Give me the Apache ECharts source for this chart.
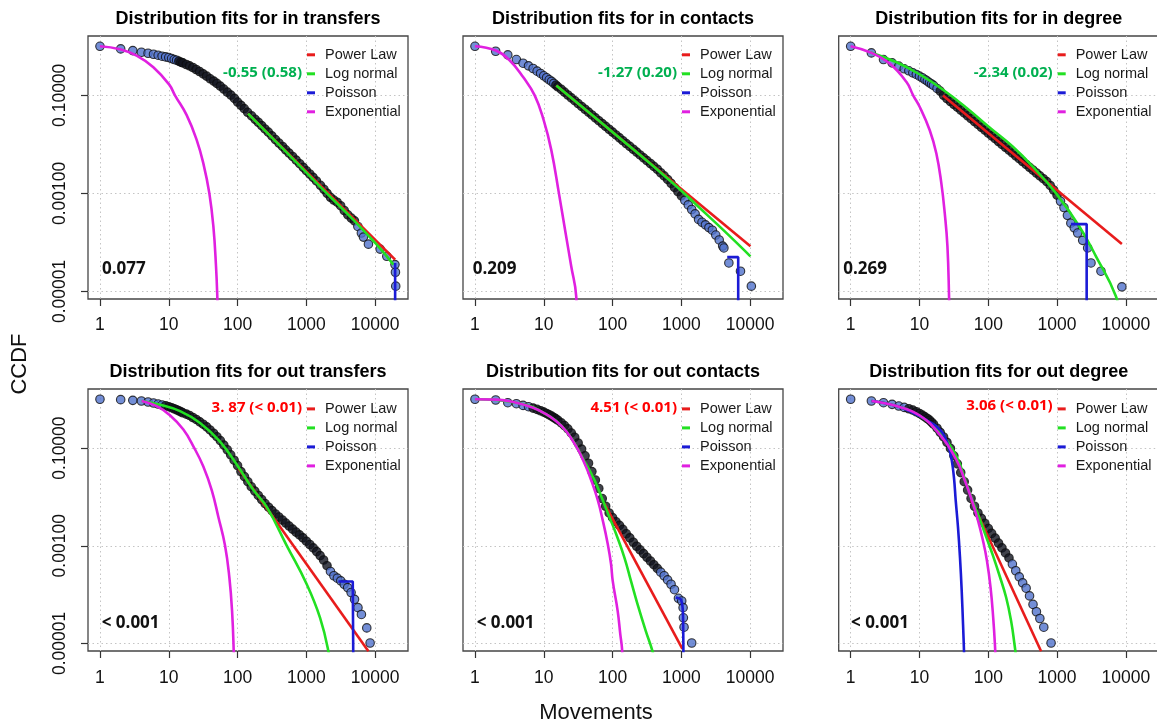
<!DOCTYPE html>
<html>
<head>
<meta charset="utf-8">
<script src="https://cdn.jsdelivr.net/npm/echarts@6/dist/echarts.min.js"></script>
<style>
  html, body { margin: 0; padding: 0; background: #ffffff; }
  #chart { width: 1157px; height: 727px; }
</style>
</head>
<body>
<div id="chart"></div>
<script>
// ---- axis ticks and labels ----
const xTickValues = [1, 10, 100, 1000, 10000];
const xTickLabels = ['1', '10', '100', '1000', '10000'];
const yTickValues = [0.1, 0.001, 0.00001];
const yTickLabels = ['0.10000', '0.00100', '0.00001'];

const panelTitles = [
  'Distribution fits for in transfers',
  'Distribution fits for in contacts',
  'Distribution fits for in degree',
  'Distribution fits for out transfers',
  'Distribution fits for out contacts',
  'Distribution fits for out degree'
];
const fitNames = ['Power Law', 'Log normal', 'Poisson', 'Exponential'];
// likelihood-ratio comparison (statistic and p) and goodness-of-fit p-value per panel
const comparisonLabels = ['-0.55 (0.58)', '-1.27 (0.20)', '-2.34 (0.02)', '3. 87 (< 0.01)', '4.51 (< 0.01)', '3.06 (< 0.01)'];
const pValueLabels = ['0.077', '0.209', '0.269', '< 0.001', '< 0.001', '< 0.001'];

// ---- in transfers: empirical CCDF [movements, CCDF] and fitted curves ----
const inTransfersPts = [[1,1],[2,0.883],[3,0.817],[4,0.755],[5,0.721],[6,0.688],[7,0.657],[8,0.627],[9,0.607],[10,0.589],[11,0.562],[12,0.536],[13,0.52],[14,0.496],[15,0.473],[16,0.459],[18,0.425],[20,0.399],[22.4,0.369],[25,0.336],[28,0.306],[31.6,0.274],[35.5,0.246],[40,0.217],[45,0.195],[50,0.175],[56,0.154],[63,0.134],[71,0.116],[80,0.101],[90,0.0865],[100,0.0729],[112,0.0624],[125,0.0534],[140,0.045],[160,0.038],[180,0.0324],[200,0.0282],[224,0.0241],[250,0.0206],[280,0.0177],[315,0.0149],[355,0.01253],[400,0.01056],[450,0.00904],[500,0.00773],[560,0.00662],[630,0.00566],[710,0.00477],[800,0.00402],[900,0.00339],[1000,0.0029],[1120,0.00248],[1250,0.00212],[1400,0.00179],[1600,0.00146],[1800,0.00121],[2000,0.001],[2240,0.00083],[2500,0.00073],[2800,0.00066],[3150,0.00056],[3550,0.000447],[4000,0.000365],[4500,0.000312],[5000,0.000275],[5600,0.000211],[6300,0.000155],[6750,0.000128],[7980,0.000092],[11800,0.000073],[14750,0.000052],[19400,0.0000352],[19700,0.0000246],[19900,0.0000128]];
const inTransfersPower = [[142,0.0423],[19500,0.0000445]];
const inTransfersLognormal = [[142,0.0423],[463,0.00798],[1582,0.00137],[4830,0.000288],[10550,0.0000897],[18450,0.0000352]];
const inTransfersPoisson = [[19500,0.000038],[19500,0.0000001]];
const inTransfersExp = [[1,1],[1.95,0.869],[3.41,0.646],[5.97,0.375],[10.1,0.167],[12.3,0.1],[18.2,0.0393],[25.5,0.0122],[31.8,0.00408],[38.9,0.001],[44.5,0.000211],[48.6,0.0000326],[50.9,0.0000069],[52.6,0.0000014]];

// ---- in contacts ----
const inContactsPts = [[1,1],[2,0.792],[3,0.667],[4,0.536],[5,0.452],[6,0.399],[7,0.352],[8,0.311],[9,0.279],[10,0.25],[11,0.228],[12,0.207],[13,0.192],[14,0.175],[15,0.161],[16,0.149],[18,0.132],[20,0.116],[22.4,0.1014],[25.1,0.0887],[28.2,0.0775],[31.6,0.0678],[35.5,0.0593],[39.8,0.0519],[44.7,0.0454],[50.1,0.0397],[56.2,0.0347],[63.1,0.0303],[70.8,0.0265],[79.4,0.0232],[89.1,0.0203],[100,0.01774],[112,0.01552],[126,0.01357],[141,0.01186],[158,0.01037],[178,0.00908],[200,0.00794],[224,0.00694],[251,0.00607],[282,0.00531],[316,0.00464],[355,0.00406],[398,0.00355],[447,0.0031],[501,0.00263],[562,0.00227],[631,0.00192],[708,0.0016],[794,0.00132],[891,0.00108],[1000,0.00089],[1122,0.000718],[1259,0.000582],[1413,0.000468],[1585,0.000381],[1778,0.000294],[1995,0.000257],[2239,0.000228],[2512,0.0002],[2818,0.000177],[3162,0.000141],[3548,0.000112],[3981,0.000084],[4150,0.000077],[4900,0.000038],[7230,0.0000258],[10400,0.0000128]];
const inContactsPower = [[15.2,0.159],[10090,0.000083]];
const inContactsLognormal = [[15.2,0.159],[100.5,0.01766],[741,0.00165],[1803,0.00052],[4385,0.000162],[10090,0.000052]];
const inContactsPoisson = [[4640,0.00005],[6700,0.00005],[6700,0.0000001]];
const inContactsExp = [[1,1],[2.01,0.817],[3.21,0.512],[5.01,0.235],[7.38,0.0995],[9.97,0.031],[12.87,0.00762],[16.61,0.001],[20.75,0.000155],[25.06,0.0000326],[29.6,0.000008],[30.6,0.00000144]];

// ---- in degree ----
const inDegreePts = [[1,1],[2,0.732],[3,0.536],[4,0.459],[5,0.393],[6,0.347],[7,0.316],[8,0.287],[9,0.266],[10,0.246],[11,0.228],[12,0.21],[13,0.195],[14,0.18],[15,0.169],[16,0.159],[18,0.138],[20,0.122],[22.4,0.1],[25.1,0.0854],[28.2,0.0747],[31.6,0.0653],[35.5,0.0571],[39.8,0.0499],[44.7,0.0436],[50.1,0.03815],[56.2,0.0334],[63.1,0.0292],[70.8,0.0255],[79.4,0.0223],[89.1,0.0195],[100,0.01703],[112,0.0149],[126,0.01303],[141,0.01139],[158,0.00996],[178,0.00871],[200,0.00762],[224,0.00666],[251,0.00582],[282,0.00509],[316,0.00445],[355,0.00389],[398,0.0034],[447,0.00297],[501,0.0026],[562,0.00227],[631,0.00199],[708,0.00174],[794,0.00145],[891,0.00117],[1000,0.00092],[1122,0.00069],[1259,0.000514],[1413,0.000356],[1585,0.000247],[1778,0.000198],[1993,0.000155],[2355,0.00011],[2782,0.000077],[3112,0.000038],[4345,0.0000258],[8750,0.0000124]];
const inDegreePower = [[22,0.0996],[8750,0.0000925]];
const inDegreeLognormal = [[1.91,0.756],[4.64,0.473],[10.1,0.266],[22,0.13],[48,0.056],[104.5,0.022],[228,0.0089],[444,0.00349],[967,0.001],[2108,0.000211],[3675,0.000052],[7160,0.000008],[8000,0.0000032]];
const inDegreePoisson = [[1596,0.000236],[2692,0.000236],[2692,0.0000001]];
const inDegreeExp = [[1,1],[2.01,0.732],[3.72,0.438],[6.48,0.186],[8.09,0.1],[10.1,0.0577],[14.1,0.0194],[17.6,0.00652],[20.8,0.0016],[23.3,0.000394],[25.5,0.000083],[26.9,0.000008],[27.5,0.00000144]];

// ---- out transfers ----
const outTransfersPts = [[1,1],[2,0.98],[3,0.948],[4,0.92],[5,0.877],[6,0.836],[7,0.797],[8,0.76],[9,0.736],[10,0.703],[11,0.67],[12,0.638],[13,0.609],[14,0.581],[15,0.554],[16,0.528],[18,0.496],[20,0.465],[22.4,0.423],[25.1,0.385],[28.2,0.344],[31.6,0.308],[35.5,0.272],[39.8,0.235],[44.7,0.201],[50.1,0.171],[56.2,0.142],[63.1,0.115],[70.8,0.0924],[79.4,0.0729],[89.1,0.0565],[100,0.0439],[112,0.033],[126,0.026],[141,0.0205],[158,0.0162],[178,0.01316],[200,0.01072],[224,0.00885],[251,0.00731],[282,0.00615],[316,0.00525],[355,0.00448],[398,0.00388],[447,0.00337],[501,0.00292],[562,0.00253],[631,0.00219],[708,0.0019],[794,0.00167],[891,0.00145],[1000,0.00124],[1122,0.00106],[1259,0.000904],[1413,0.000759],[1585,0.000628],[1778,0.000511],[1995,0.00039],[2239,0.000298],[2512,0.000243],[2818,0.000217],[3162,0.000191],[3548,0.000163],[3981,0.000139],[4467,0.00011],[5012,0.00008],[5623,0.000054],[6310,0.0000392],[7550,0.0000208],[8440,0.0000102]];
const outTransfersPower = [[102.8,0.0386],[7980,0.0000069]];
const outTransfersLognormal = [[4.04,0.92],[7.46,0.773],[14.6,0.571],[28.5,0.327],[55.6,0.135],[101.6,0.0418],[170,0.0138],[265,0.00624],[518,0.00101],[1012,0.000163],[1582,0.0000335],[2090,0.0000069],[2260,0.00000265]];
const outTransfersPoisson = [[2924,0.000185],[4725,0.000185],[4830,0.0000014]];
const outTransfersExp = [[4.04,0.92],[6.67,0.725],[10.07,0.488],[16.3,0.239],[23.5,0.1],[31.8,0.0419],[42.1,0.0138],[52.6,0.00388],[65.7,0.00101],[76,0.000224],[83.2,0.000046],[87.9,0.0000069],[89.9,0.0000014]];

// ---- out contacts ----
const outContactsPts = [[1,1],[2,0.964],[3,0.85],[4,0.81],[5,0.748],[6,0.703],[7,0.659],[8,0.619],[9,0.581],[10,0.545],[11,0.512],[12,0.48],[13,0.451],[14,0.423],[15,0.397],[16,0.372],[18,0.328],[20,0.289],[22.4,0.247],[25.1,0.204],[28.2,0.166],[31.6,0.127],[35.5,0.0953],[39.8,0.0695],[44.7,0.049],[50.1,0.033],[56.2,0.0222],[63.1,0.0149],[70.8,0.00927],[79.4,0.00644],[89.1,0.0047],[100,0.00376],[112,0.00311],[126,0.00261],[141,0.00216],[158,0.00176],[178,0.00145],[200,0.00118],[224,0.000977],[251,0.000822],[282,0.00069],[316,0.00058],[355,0.000487],[398,0.000409],[447,0.000344],[501,0.000288],[562,0.000243],[631,0.0002],[708,0.000163],[794,0.000126],[906,0.000084],[1012,0.000074],[1059,0.000054],[1070,0.0000335],[1094,0.0000215],[1413,0.0000102]];
const outContactsPower = [[76.1,0.00731],[1035,0.0000077]];
const outContactsLognormal = [[1,1],[4.01,0.849],[9.97,0.528],[21.2,0.221],[39.1,0.053],[54.5,0.0222],[72,0.00857],[89.9,0.00388],[112.3,0.00176],[148.2,0.00058],[185,0.000191],[231,0.000063],[305,0.0000177],[381,0.0000069],[403,0.0000043]];
const outContactsPoisson = [[829,0.000087],[979,0.00008],[1035,0.000059],[1059,0.0000335],[1070,0.0000069],[1070,0.0000001]];
const outContactsExp = [[1,1],[2.06,0.98],[4.01,0.849],[6.98,0.67],[9.97,0.528],[15.2,0.355],[21.2,0.221],[29.6,0.108],[39.1,0.049],[48.8,0.0222],[61,0.00857],[72,0.00331],[85.1,0.00109],[95,0.000422],[100.5,0.000191],[118.7,0.000046],[129.7,0.0000151],[137,0.000008],[141.6,0.00000265]];

// ---- out degree ----
const outDegreePts = [[1,1],[2,0.92],[3,0.849],[4,0.785],[5,0.725],[6,0.68],[7,0.639],[8,0.6],[9,0.554],[10,0.512],[11,0.472],[12,0.436],[13,0.403],[14,0.373],[15,0.339],[16,0.308],[18,0.255],[20,0.21],[22.4,0.169],[25.1,0.131],[28.2,0.0985],[31.6,0.0695],[35.5,0.0475],[39.8,0.0315],[44.7,0.0205],[50.1,0.0138],[56.2,0.00929],[63.1,0.00644],[70.8,0.0047],[79.4,0.00364],[89.1,0.00287],[100,0.00226],[112,0.00179],[126,0.00143],[141,0.00113],[158,0.000904],[178,0.000713],[200,0.000562],[224,0.000422],[251,0.000308],[282,0.000231],[316,0.000174],[355,0.000135],[398,0.000094],[447,0.000063],[501,0.0000445],[562,0.0000324],[641,0.0000215],[818,0.0000102]];
const outDegreePower = [[56.7,0.00857],[586,0.0000069]];
const outDegreeLognormal = [[2.01,0.92],[4.64,0.725],[10.1,0.451],[19.7,0.204],[34.4,0.0673],[48,0.0189],[59.9,0.00792],[74.9,0.00359],[93.5,0.0015],[117,0.000628],[146,0.000243],[182,0.000087],[215,0.0000286],[241,0.0000094],[255,0.000005]];
const outDegreePoisson = [[2.01,0.92],[4.64,0.725],[10.1,0.451],[13.35,0.355],[17.6,0.28],[22,0.198],[26,0.117],[29.1,0.0622],[31.8,0.024],[33.6,0.00857],[36.3,0.00241],[38.8,0.00058],[41.1,0.000119],[43,0.0000244],[44.4,0.0000069],[45.4,0.00000265]];
const outDegreeExp = [[2.01,0.92],[4.64,0.725],[10.1,0.465],[19.7,0.188],[34.4,0.0574],[45.4,0.0222],[56.7,0.00929],[70.8,0.00331],[83.7,0.00128],[95.7,0.000494],[108,0.000139],[118,0.0000335],[125,0.0000094],[129,0.0000031]];

const panels = [
  { pts: inTransfersPts,   fits: [inTransfersPower,   inTransfersLognormal,   inTransfersPoisson,   inTransfersExp] },
  { pts: inContactsPts,    fits: [inContactsPower,    inContactsLognormal,    inContactsPoisson,    inContactsExp] },
  { pts: inDegreePts,      fits: [inDegreePower,      inDegreeLognormal,      inDegreePoisson,      inDegreeExp] },
  { pts: outTransfersPts,  fits: [outTransfersPower,  outTransfersLognormal,  outTransfersPoisson,  outTransfersExp] },
  { pts: outContactsPts,   fits: [outContactsPower,   outContactsLognormal,   outContactsPoisson,   outContactsExp] },
  { pts: outDegreePts,     fits: [outDegreePower,     outDegreeLognormal,     outDegreePoisson,     outDegreeExp] }
];

// ---- layout and styling ----
const boxLeft = [88, 463, 838.7];
const boxTop = [36, 389];
const boxWidth = 320;
const boxHeight = [263, 262];
const xRange = [0.67, 30000];
const yRange = [0.000007, 1.62];
const fitColors = ['#e81c1c', '#22e022', '#1b1bd6', '#e020e0'];
const pointColor = '#5072cc';
// where the markers pile up so thickly that their outlines merge into a dark trace
const overplotRange = [[14, 5000], [15, 1100], [20, 1100], [9, 2000], [7, 500], [7, 220]];
const overplotColor = '#12141f';
const smoothFit = [[0, 0.45, 0, 0.45], [0, 0.45, 0, 0.45], [0, 0.45, 0, 0.45], [0, 0.45, 0, 0.45], [0, 0.45, 0.2, 0.45], [0, 0.45, 0.4, 0.45]];
const comparisonColor = ['#00b050', '#00b050', '#00b050', '#ff0000', '#ff0000', '#ff0000'];
const comparisonY = [72.8, 72.8, 72.8, 408, 407.5, 406];
const pValueX = [102, 472.7, 843.3, 101.7, 476.7, 851];
const pValueY = [269.2, 269.2, 269.2, 623, 623, 623];
const labelFont = 'Liberation Sans, Arial, sans-serif';
const noteFont = 'Open Sans, Noto Sans, sans-serif';

function tickFormatter(values, labels) {
  return function (v) {
    let best = 0;
    for (let k = 1; k < values.length; k++) {
      if (Math.abs(Math.log10(v) - Math.log10(values[k])) < Math.abs(Math.log10(v) - Math.log10(values[best]))) best = k;
    }
    return labels[best];
  };
}

const grids = [], xAxes = [], yAxes = [], series = [], legends = [], graphics = [];

panels.forEach(function (p, i) {
  const col = i % 3, row = Math.floor(i / 3);
  const left = boxLeft[col], top = boxTop[row];
  grids.push({
    left: left, top: top, width: boxWidth, height: boxHeight[row],
    show: true, borderColor: '#454545', borderWidth: 1.3,
    backgroundColor: 'transparent', containLabel: false, outerBoundsMode: 'none'
  });
  xAxes.push({
    type: 'log', logBase: 10, gridIndex: i, min: xRange[0], max: xRange[1],
    axisLine: { show: false },
    axisTick: { show: true, inside: false, length: 7, customValues: xTickValues, lineStyle: { color: '#333', width: 1.2 } },
    axisLabel: { show: true, customValues: xTickValues, formatter: tickFormatter(xTickValues, xTickLabels),
      margin: row === 0 ? 17 : 18, fontSize: 17.5, fontFamily: labelFont, color: '#111' },
    splitLine: { show: true, lineStyle: { type: [1.5, 3], color: '#c4c4c4', width: 1 } }
  });
  yAxes.push({
    type: 'log', logBase: 10, gridIndex: i, min: yRange[0], max: yRange[1],
    axisLine: { show: false },
    axisTick: { show: col === 0, inside: false, length: 7, customValues: yTickValues, lineStyle: { color: '#333', width: 1.2 } },
    axisLabel: { show: col === 0, customValues: yTickValues, formatter: tickFormatter(yTickValues, yTickLabels),
      rotate: 90, margin: 19, fontSize: 17.5, fontFamily: labelFont, color: '#111' },
    splitLine: { show: true, lineStyle: { type: [1.5, 3], color: '#c4c4c4', width: 1 } }
  });
  const lo = overplotRange[i][0], hi = overplotRange[i][1];
  series.push({
    type: 'scatter', name: 'CCDF', xAxisIndex: i, yAxisIndex: i,
    data: p.pts.map(function (pt) {
      const dense = pt[0] >= lo && pt[0] <= hi;
      return dense ? { value: pt, itemStyle: { color: overplotColor } } : { value: pt };
    }),
    symbol: 'circle', symbolSize: 8.5, z: 2, silent: true,
    itemStyle: { color: pointColor, borderColor: '#0d0d0d', borderWidth: 1.1 }
  });
  p.fits.forEach(function (d, k) {
    series.push({
      type: 'line', name: fitNames[k], xAxisIndex: i, yAxisIndex: i, data: d,
      showSymbol: false, symbol: 'none', smooth: smoothFit[i][k],
      z: 3 + k, silent: true, clip: true,
      lineStyle: { color: fitColors[k], width: 2.6 }, itemStyle: { color: fitColors[k] }
    });
  });
  legends.push({
    orient: 'vertical', left: left + boxWidth - 101, top: top + (row === 0 ? 11.3 : 12.4),
    padding: 0, itemGap: 4, itemWidth: 8, itemHeight: 3, icon: 'rect', selectedMode: false,
    data: fitNames,
    textStyle: { fontSize: 14.5, fontFamily: labelFont, color: '#1a1a1a', padding: [0, 0, 0, 5] }
  });
  graphics.push({
    type: 'text', x: left + boxWidth / 2, y: row === 0 ? 19 : 372, silent: true,
    style: { text: panelTitles[i], fontSize: 18, fontWeight: 'bold', fontFamily: labelFont, fill: '#000',
      align: 'center', verticalAlign: 'middle' }
  });
  graphics.push({
    type: 'text', x: left + boxWidth - 106, y: comparisonY[i], silent: true, z: 20,
    style: { text: comparisonLabels[i], fontSize: 15, fontWeight: 'bold', fontFamily: noteFont, fill: comparisonColor[i],
      align: 'right', verticalAlign: 'middle' }
  });
  graphics.push({
    type: 'text', x: pValueX[i], y: pValueY[i], silent: true, z: 20,
    style: { text: pValueLabels[i], fontSize: 17, fontWeight: 'bold', fontFamily: noteFont, fill: '#111',
      align: 'left', verticalAlign: 'middle' }
  });
});

graphics.push({
  type: 'text', x: 20, y: 364, rotation: Math.PI / 2, silent: true,
  style: { text: 'CCDF', fontSize: 22, fontFamily: labelFont, fill: '#111', align: 'center', verticalAlign: 'middle' }
});
graphics.push({
  type: 'text', x: 596, y: 713, silent: true,
  style: { text: 'Movements', fontSize: 22, fontFamily: labelFont, fill: '#111', align: 'center', verticalAlign: 'middle' }
});

const chart = echarts.init(document.getElementById('chart'), null, { renderer: 'canvas' });
chart.setOption({
  animation: false,
  backgroundColor: '#ffffff',
  grid: grids,
  xAxis: xAxes,
  yAxis: yAxes,
  legend: legends,
  series: series,
  graphic: { elements: graphics }
});
</script>
</body>
</html>
